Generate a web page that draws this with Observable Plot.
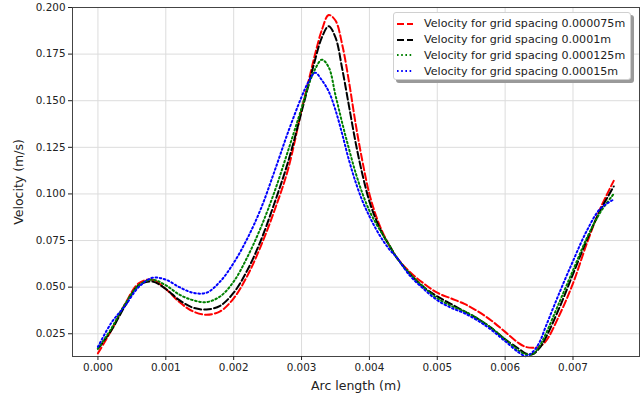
<!DOCTYPE html>
<html>
<head>
<meta charset="utf-8">
<script src="https://cdn.jsdelivr.net/npm/d3@7"></script>
<script src="https://cdn.jsdelivr.net/npm/@observablehq/plot@0.6"></script>
<style>
  html, body { margin: 0; padding: 0; background: #fff; }
  #wrap { position: relative; width: 642px; height: 398px; font-family: "DejaVu Sans", sans-serif; }
  #legend {
    position: absolute; left: 393px; top: 12px; width: 238px; height: 68px;
    background: #fff; border: 1px solid #d0d0d0; border-radius: 3px;
    box-shadow: 3px 3px 0 #9a9a9a; font-size: 11.1px; color: #222;
    box-sizing: border-box; padding-top: 3px;
  }
  .row { display: flex; align-items: center; height: 15.8px; white-space: nowrap; }
  .row svg { margin-left: 3px; margin-right: 11px; }
</style>
</head>
<body>
<div id="wrap"></div>
<script>
// Arc length positions (m)
const arc = [0, 0.0002, 0.0004, 0.0006, 0.0008, 0.0010, 0.0012, 0.0014, 0.0016, 0.0018,
  0.0020, 0.0022, 0.0024, 0.0026, 0.0028, 0.0030,
  0.0031, 0.0032, 0.0033, 0.0034, 0.0035, 0.0036, 0.0037, 0.0038, 0.0039, 0.0040, 0.0041, 0.0042, 0.0043, 0.0044,
  0.0046, 0.0048, 0.0050, 0.0052, 0.0054, 0.0056, 0.0058, 0.0060, 0.0062,
  0.0063, 0.0064, 0.0065, 0.0066,
  0.0068, 0.0070, 0.0072, 0.0074, 0.0076];

// Velocity (m/s) for each grid spacing
const v000075 = [0.0145, 0.027, 0.041, 0.052, 0.054, 0.049, 0.042, 0.037, 0.0352, 0.037,
  0.044, 0.056, 0.072, 0.091, 0.113, 0.145,
  0.160, 0.175, 0.188, 0.196, 0.193, 0.180, 0.160, 0.137, 0.117, 0.100, 0.088, 0.079, 0.072, 0.066,
  0.058, 0.052, 0.047, 0.044, 0.041, 0.037, 0.032, 0.026, 0.020,
  0.018, 0.0175, 0.018, 0.021,
  0.035, 0.052, 0.073, 0.092, 0.107];
const v0001 = [0.017, 0.027, 0.040, 0.051, 0.053, 0.049, 0.043, 0.039, 0.038, 0.040,
  0.047, 0.059, 0.075, 0.095, 0.117, 0.144,
  0.158, 0.172, 0.184, 0.190, 0.184, 0.167, 0.147, 0.127, 0.110, 0.096, 0.086, 0.078, 0.072, 0.066,
  0.057, 0.050, 0.045, 0.041, 0.037, 0.033, 0.028, 0.022, 0.017,
  0.0145, 0.014, 0.017, 0.023,
  0.039, 0.057, 0.075, 0.091, 0.104];
const v000125 = [0.017, 0.028, 0.041, 0.051, 0.054, 0.051, 0.046, 0.043, 0.042, 0.045,
  0.053, 0.066, 0.082, 0.101, 0.123, 0.146,
  0.158, 0.167, 0.172, 0.168, 0.153, 0.138, 0.124, 0.111, 0.100, 0.091, 0.084, 0.078, 0.072, 0.066,
  0.057, 0.050, 0.044, 0.040, 0.037, 0.033, 0.028, 0.022, 0.016,
  0.014, 0.014, 0.018, 0.025,
  0.042, 0.059, 0.076, 0.090, 0.100];
const v00015 = [0.018, 0.031, 0.040, 0.050, 0.055, 0.054, 0.050, 0.047, 0.047, 0.053,
  0.063, 0.076, 0.092, 0.112, 0.133, 0.152,
  0.160, 0.165, 0.161, 0.155, 0.145, 0.132, 0.118, 0.106, 0.096, 0.088, 0.081, 0.075, 0.070, 0.066,
  0.056, 0.049, 0.043, 0.039, 0.036, 0.032, 0.027, 0.021, 0.015,
  0.013, 0.015, 0.020, 0.029,
  0.047, 0.064, 0.080, 0.092, 0.097];

const seriesNames = ["Velocity for grid spacing 0.000075m", "Velocity for grid spacing 0.0001m",
  "Velocity for grid spacing 0.000125m", "Velocity for grid spacing 0.00015m"];
const seriesValues = [v000075, v0001, v000125, v00015];
const seriesColors = ["#ff0000", "#000000", "#008000", "#0000ff"];
const seriesDash = ["7,3", "7,3", "1.6,2.6", "1.6,2.6"];

const xTicks = [0, 0.001, 0.002, 0.003, 0.004, 0.005, 0.006, 0.007];
const yTicks = [0.025, 0.05, 0.075, 0.1, 0.125, 0.15, 0.175, 0.2];

const lineMarks = seriesValues.map((vals, i) =>
  Plot.line(arc.map((a, j) => ({a, v: vals[j]})), {
    x: "a", y: "v", stroke: seriesColors[i], strokeWidth: 2,
    strokeDasharray: seriesDash[i], curve: "catmull-rom"
  })
);

const chart = Plot.plot({
  width: 642, height: 398,
  marginLeft: 72, marginRight: 3, marginTop: 7, marginBottom: 42,
  style: {fontFamily: "DejaVu Sans, sans-serif", fontSize: "10px", color: "#222", background: "#fff"},
  x: {domain: [-0.000375, 0.00798]},
  y: {domain: [0.0128, 0.2]},
  marks: [
    Plot.gridX(xTicks, {stroke: "#dcdcdc", strokeOpacity: 1}),
    Plot.gridY(yTicks, {stroke: "#dcdcdc", strokeOpacity: 1}),
    ...lineMarks,
    Plot.frame({stroke: "#444"}),
    Plot.axisX(xTicks, {tickFormat: d3.format(".3f"), tickSize: 4, tickPadding: 3,
      label: "Arc length (m)", labelAnchor: "center", labelArrow: "none", labelOffset: 33, fontSize: 10.4}),
    Plot.axisY(yTicks, {tickFormat: d3.format(".3f"), tickSize: 4, tickPadding: 3,
      label: "Velocity (m/s)", labelAnchor: "center", labelArrow: "none", labelOffset: 58, fontSize: 10.4})
  ]
});

const wrap = document.getElementById("wrap");
wrap.appendChild(chart);
chart.querySelectorAll("g[aria-label='x-axis label'] text, g[aria-label='y-axis label'] text").forEach(t => t.style.fontSize = "12.5px");

const legend = document.createElement("div");
legend.id = "legend";
seriesNames.forEach((name, i) => {
  const row = document.createElement("div");
  row.className = "row";
  row.innerHTML = `<svg width="16" height="6"><line x1="0" y1="3" x2="16" y2="3" stroke="${seriesColors[i]}" stroke-width="2" stroke-dasharray="${seriesDash[i]}"/></svg><span>${name}</span>`;
  legend.appendChild(row);
});
wrap.appendChild(legend);
</script>
</body>
</html>
